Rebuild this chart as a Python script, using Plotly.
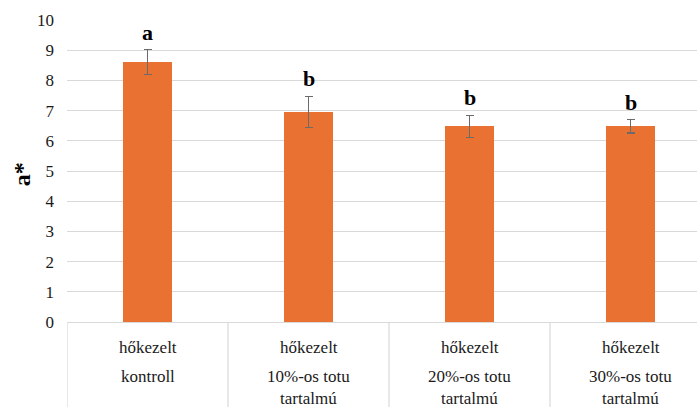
import plotly.graph_objects as go

# Data
groups = ["kontroll", "10%-os totu<br>tartalmú", "20%-os totu<br>tartalmú", "30%-os totu<br>tartalmú"]
treatment = ["hőkezelt", "hőkezelt", "hőkezelt", "hőkezelt"]
a_star = [8.61, 6.95, 6.48, 6.48]
a_star_err = [0.41, 0.52, 0.36, 0.22]
letters = ["a", "b", "b", "b"]
y_title = "a*"

xs = list(range(len(groups)))
FONT = "Times New Roman, Liberation Serif, serif"
GRID = "#d9d9d9"

fig = go.Figure()
fig.add_trace(go.Bar(
    x=xs, y=a_star, width=0.31,
    marker=dict(color="#E97132", line=dict(width=0)),
    error_y=dict(type="data", array=a_star_err, visible=True,
                 color="#6b6b6b", thickness=1.3, width=4),
    hoverinfo="skip",
))

annotations = []
# significance letters above error bars
for x, v, e, t in zip(xs, a_star, a_star_err, letters):
    annotations.append(dict(x=x, y=v + e, xref="x", yref="y", text=f"<b>{t}</b>",
                            showarrow=False, yanchor="bottom", yshift=3,
                            font=dict(family=FONT, size=22, color="#000000")))
# two-row category labels under the axis
for x, t, g in zip(xs, treatment, groups):
    annotations.append(dict(x=x, y=-0.083, xref="x", yref="paper", text=t,
                            showarrow=False, yanchor="middle",
                            font=dict(family=FONT, size=17, color="#1a1a1a")))
    annotations.append(dict(x=x, y=-0.143, xref="x", yref="paper", text=g,
                            showarrow=False, yanchor="top",
                            font=dict(family=FONT, size=17, color="#1a1a1a")))
# rotated y-axis title
annotations.append(dict(x=-0.071, y=0.49, xref="paper", yref="paper",
                        text=f"<b>{y_title}</b>", textangle=-90, showarrow=False,
                        xanchor="center", yanchor="middle",
                        font=dict(family=FONT, size=24, color="#000000")))

# vertical separators between category cells
shapes = []
for i in range(len(groups) + 1):
    shapes.append(dict(type="line", xref="x", yref="paper",
                       x0=i - 0.5, x1=i - 0.5, y0=0, y1=-0.3,
                       line=dict(color=GRID, width=1.2)))

fig.update_layout(
    width=697, height=407,
    margin=dict(l=67, r=0, t=20, b=85),
    paper_bgcolor="white", plot_bgcolor="white",
    font=dict(family=FONT),
    showlegend=False,
    bargap=0,
    annotations=annotations,
    shapes=shapes,
    xaxis=dict(range=[-0.5, 3.413], showticklabels=False, ticks="",
               showgrid=False, zeroline=False, showline=False,
               fixedrange=True),
    yaxis=dict(range=[0, 10], dtick=1, showgrid=True, gridcolor=GRID,
               gridwidth=1.2, zeroline=True, zerolinecolor=GRID,
               zerolinewidth=1.2, showline=False, ticks="",
               ticklabelstandoff=12,
               tickfont=dict(family=FONT, size=17, color="#1a1a1a")),
)

fig.write_html("out.html")
